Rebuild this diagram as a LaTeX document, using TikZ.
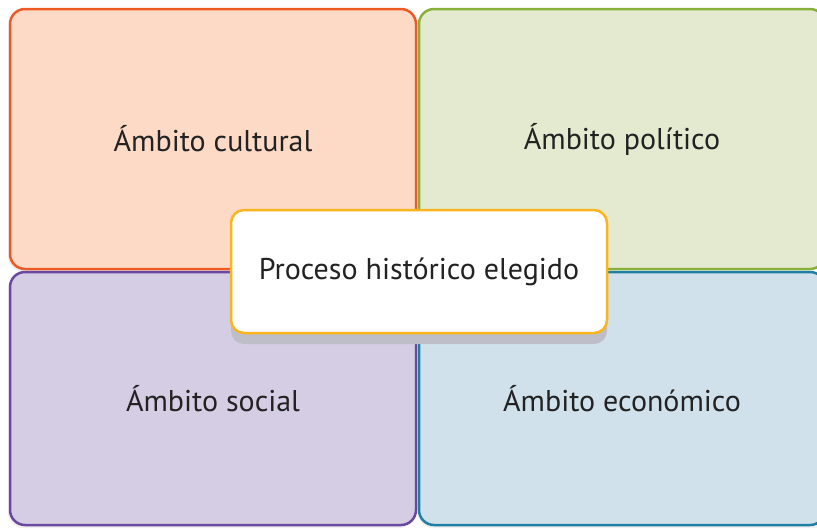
\documentclass[tikz,border=0pt]{standalone}
\usepackage{fontspec}
\setmainfont{PT Sans}
\definecolor{oBorder}{HTML}{EF5A24}
\definecolor{oFill}{HTML}{FCDAC6}
\definecolor{gBorder}{HTML}{8AB03C}
\definecolor{gFill}{HTML}{E3EACF}
\definecolor{pBorder}{HTML}{6B47A0}
\definecolor{pFill}{HTML}{D5CDE3}
\definecolor{bBorder}{HTML}{1F7FA3}
\definecolor{bFill}{HTML}{D1E1EB}
\definecolor{cBorder}{HTML}{F9B41E}
\definecolor{cShadow}{HTML}{BDBEC8}
\definecolor{txt}{HTML}{222222}
\begin{document}
\begin{tikzpicture}[x=1pt,y=-1pt,
  area/.style={rounded corners=15pt, line width=2.5pt, minimum width=406pt, inner sep=0pt,
     font=\fontsize{30}{36}\selectfont, text=txt},
  central/.style={rounded corners=13pt, line width=2.5pt, fill=white, draw=cBorder,
     minimum width=376pt, minimum height=123pt, inner sep=0pt,
     font=\fontsize{30}{36}\selectfont, text=txt}]
\useasboundingbox (0,0) rectangle (817,531);
\fill[white] (0,0) rectangle (817,531);
\clip (0,0) rectangle (817,531);
% soft shadows of the areas
\fill[black!6, rounded corners=15pt] (8,12) rectangle (415,272);
\fill[black!6, rounded corners=15pt] (8,275) rectangle (415,528);
\fill[black!6, rounded corners=15pt] (418,275) rectangle (830,528);
\node[area, draw=oBorder, fill=oFill, minimum height=260pt] (cult) at (213,139) {Ámbito cultural};
\node[area, draw=gBorder, fill=gFill, minimum height=260pt] (poli) at (622,139) {Ámbito político};
\node[area, draw=pBorder, fill=pFill, minimum height=253pt] (soc) at (213,398.5) {Ámbito social};
\node[area, draw=bBorder, fill=bFill, minimum height=253pt] (eco) at (622,398.5) {Ámbito económico};
\fill[cShadow, rounded corners=13pt] (231,222) rectangle (607,344);
\node[central] (proc) at (419,271.5) {Proceso histórico elegido};
\end{tikzpicture}
\end{document}
